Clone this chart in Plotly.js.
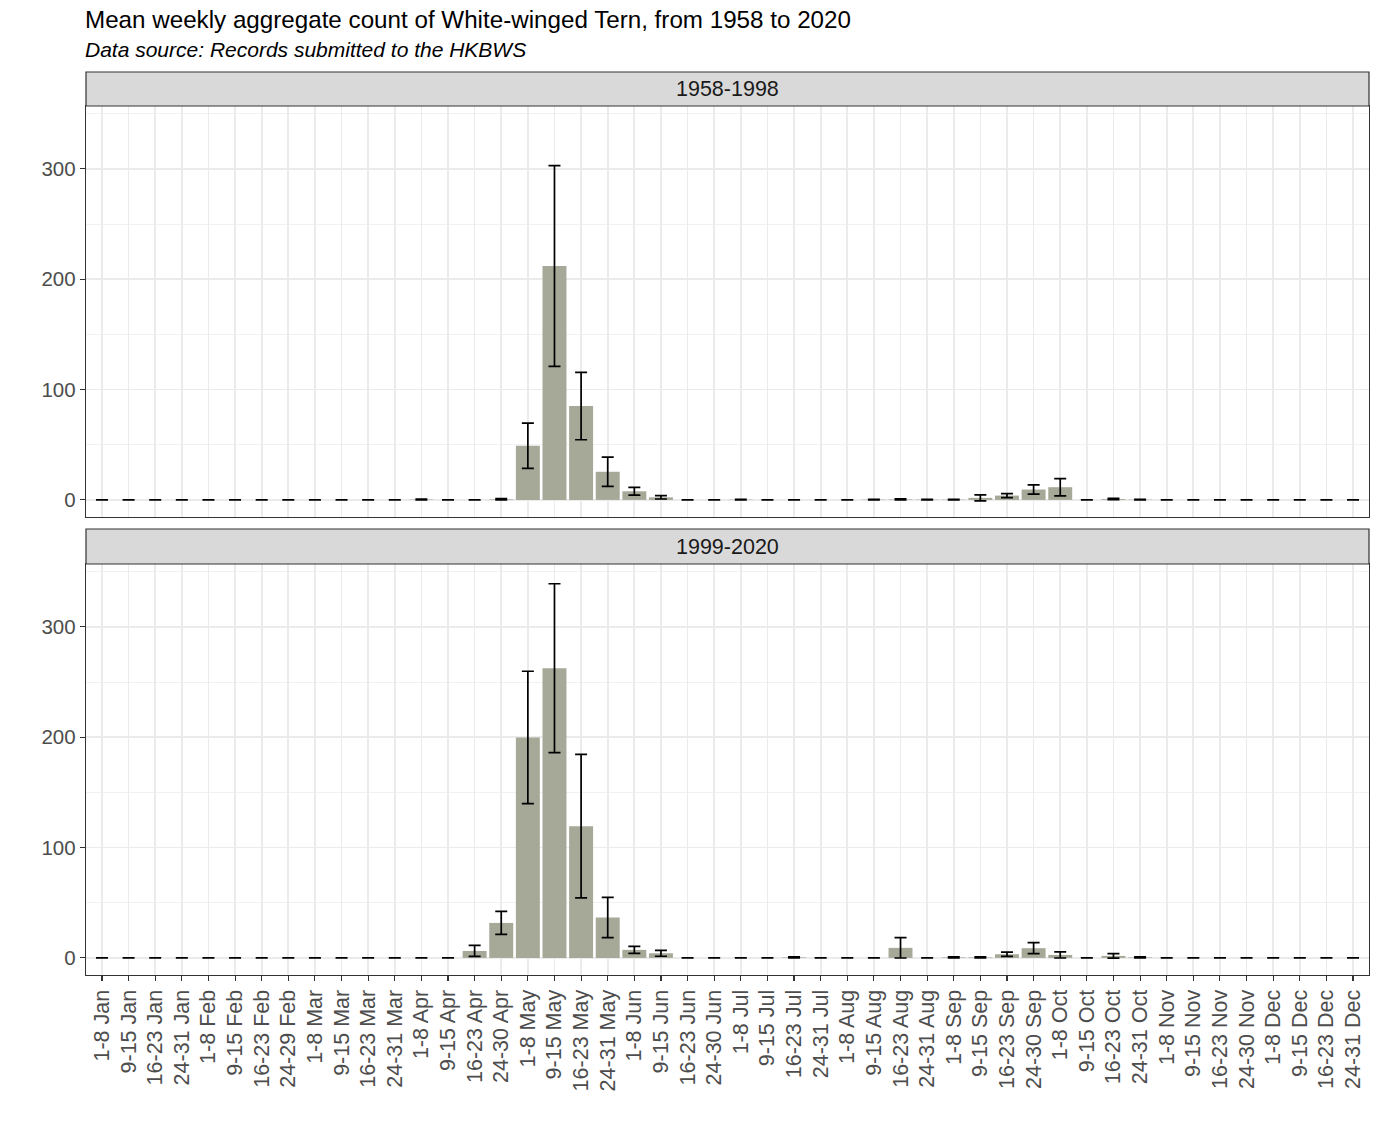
<!DOCTYPE html>
<html>
<head>
<meta charset="utf-8">
<script src="https://cdn.plot.ly/plotly-3.0.1.min.js"></script>
<style>
  html, body { margin: 0; padding: 0; background: #ffffff; }
  #chart { width: 1379px; height: 1128px; }
</style>
</head>
<body>
<div id="chart"></div>
<script>
// ---- Data ----
var weeks = [
  "1-8 Jan","9-15 Jan","16-23 Jan","24-31 Jan",
  "1-8 Feb","9-15 Feb","16-23 Feb","24-29 Feb",
  "1-8 Mar","9-15 Mar","16-23 Mar","24-31 Mar",
  "1-8 Apr","9-15 Apr","16-23 Apr","24-30 Apr",
  "1-8 May","9-15 May","16-23 May","24-31 May",
  "1-8 Jun","9-15 Jun","16-23 Jun","24-30 Jun",
  "1-8 Jul","9-15 Jul","16-23 Jul","24-31 Jul",
  "1-8 Aug","9-15 Aug","16-23 Aug","24-31 Aug",
  "1-8 Sep","9-15 Sep","16-23 Sep","24-30 Sep",
  "1-8 Oct","9-15 Oct","16-23 Oct","24-31 Oct",
  "1-8 Nov","9-15 Nov","16-23 Nov","24-30 Nov",
  "1-8 Dec","9-15 Dec","16-23 Dec","24-31 Dec"
];
var periods = ["1958-1998", "1999-2020"];

var mean1958 = [0,0,0,0, 0,0,0,0, 0,0,0,0, 0.4,0,0,0.6, 49,212,85,25.5, 7.8,2.3,0,0,
                0.3,0,0,0, 0,0.3,0.5,0.3, 0.3,1.8,3.9,9.4, 11.5,0,0.8,0.3, 0,0,0,0, 0,0,0,0];
var err1958  = [0,0,0,0, 0,0,0,0, 0,0,0,0, 0.3,0,0,0.5, 20.5,91,30.5,13.3, 3.5,1.5,0,0,
                0.2,0,0,0, 0,0.2,0.4,0.2, 0.3,2.7,1.8,4.2, 7.8,0,0.5,0.2, 0,0,0,0, 0,0,0,0];
var mean1999 = [0,0,0,0, 0,0,0,0, 0,0,0,0, 0,0,6.3,31.7, 199.8,262.6,119.4,36.6, 7.3,4.2,0,0,
                0,0,0.5,0, 0,0,9.1,0, 0.5,0.5,3.3,8.8, 2.7,0,1.8,0.5, 0,0,0,0, 0,0,0,0];
var err1999  = [0,0,0,0, 0,0,0,0, 0,0,0,0, 0,0,5,10.4, 60,76.5,65,18.3, 3.2,2.7,0,0,
                0,0,0.4,0, 0,0,9.2,0, 0.4,0.4,2,5, 2.8,0,2,0.4, 0,0,0,0, 0,0,0,0];
var yTicks = [0, 100, 200, 300];

var titleText = "Mean weekly aggregate count of White-winged Tern, from 1958 to 2020";
var subtitleText = "Data source: Records submitted to the HKBWS";

// ---- Layout geometry (pixels) ----
var W = 1379, H = 1128;
var mL = 86, mR = 10, mT = 72, mB = 153;
var plotH = H - mT - mB;
function py(px) { return (H - mB - px) / plotH; }

var FONT = "Liberation Sans, Arial, Helvetica, sans-serif";
var barColor = "#a6a898";

function errCfg(arr) {
  return { type: "data", array: arr, visible: true, color: "#000000", thickness: 1.7, width: 6 };
}

var traces = [
  { type: "bar", x: weeks, y: mean1958, xaxis: "x", yaxis: "y",
    marker: { color: barColor }, error_y: errCfg(err1958), showlegend: false, hoverinfo: "none" },
  { type: "bar", x: weeks, y: mean1999, xaxis: "x2", yaxis: "y2",
    marker: { color: barColor }, error_y: errCfg(err1999), showlegend: false, hoverinfo: "none" }
];

var yRange = [-15.5, 357];
function yAxis(domain, anchor) {
  return {
    domain: domain, anchor: anchor, range: yRange, fixedrange: true,
    tickmode: "array", tickvals: yTicks, ticktext: yTicks.map(String),
    ticks: "outside", ticklen: 5, tickwidth: 1.1, tickcolor: "#333333",
    tickfont: { family: FONT, size: 20.5, color: "#4d4d4d" },
    showgrid: true, gridcolor: "#ebebeb", gridwidth: 1.7,
    minor: { dtick: 50, tick0: 0, showgrid: true, gridcolor: "#f0f0f0", gridwidth: 0.9, ticks: "" },
    zeroline: false,
    showline: true, mirror: true, linecolor: "#333333", linewidth: 1.2
  };
}
function xAxis(anchor, showLabels) {
  return {
    anchor: anchor, domain: [0, 1], type: "category",
    categoryorder: "array", categoryarray: weeks,
    range: [-0.6, 47.6], fixedrange: true,
    showticklabels: showLabels,
    ticks: showLabels ? "outside" : "", ticklen: 5, tickwidth: 1.1, tickcolor: "#333333",
    tickangle: -90,
    tickfont: { family: FONT, size: 21.5, color: "#4d4d4d" },
    showgrid: true, gridcolor: "#ebebeb", gridwidth: 1.7,
    zeroline: false,
    showline: true, mirror: true, linecolor: "#333333", linewidth: 1.2
  };
}

var p1Top = 106, p1Bot = 517, s1Top = 72;
var p2Top = 564, p2Bot = 975, s2Top = 529;

var layout = {
  width: W, height: H,
  margin: { l: mL, r: mR, t: mT, b: mB, pad: 0 },
  paper_bgcolor: "#ffffff", plot_bgcolor: "#ffffff",
  font: { family: FONT, color: "#1a1a1a" },
  bargap: 0.1,
  showlegend: false,
  xaxis: xAxis("y", false),
  yaxis: yAxis([py(p1Bot), py(p1Top)], "x"),
  xaxis2: xAxis("y2", true),
  yaxis2: yAxis([py(p2Bot), py(p2Top)], "x2"),
  shapes: [
    { type: "rect", xref: "paper", yref: "paper", x0: 0, x1: 1, y0: py(p1Top), y1: py(s1Top),
      fillcolor: "#d9d9d9", line: { color: "#333333", width: 1.2 }, layer: "above" },
    { type: "rect", xref: "paper", yref: "paper", x0: 0, x1: 1, y0: py(p2Top), y1: py(s2Top),
      fillcolor: "#d9d9d9", line: { color: "#333333", width: 1.2 }, layer: "above" }
  ],
  annotations: [
    { text: periods[0], xref: "paper", yref: "paper", x: 0.5, y: py((p1Top + s1Top) / 2),
      xanchor: "center", yanchor: "middle", showarrow: false,
      font: { family: FONT, size: 21.5, color: "#1a1a1a" } },
    { text: periods[1], xref: "paper", yref: "paper", x: 0.5, y: py((p2Top + s2Top) / 2),
      xanchor: "center", yanchor: "middle", showarrow: false,
      font: { family: FONT, size: 21.5, color: "#1a1a1a" } },
    { text: titleText, xref: "paper", yref: "paper", x: -0.002, y: py(19),
      xanchor: "left", yanchor: "middle", showarrow: false,
      font: { family: FONT, size: 24.2, color: "#000000" } },
    { text: "<i>" + subtitleText + "</i>", xref: "paper", yref: "paper", x: -0.002, y: py(50),
      xanchor: "left", yanchor: "middle", showarrow: false,
      font: { family: FONT, size: 21, color: "#000000" } }
  ]
};

Plotly.newPlot("chart", traces, layout, { displayModeBar: false, staticPlot: true });
</script>
</body>
</html>
